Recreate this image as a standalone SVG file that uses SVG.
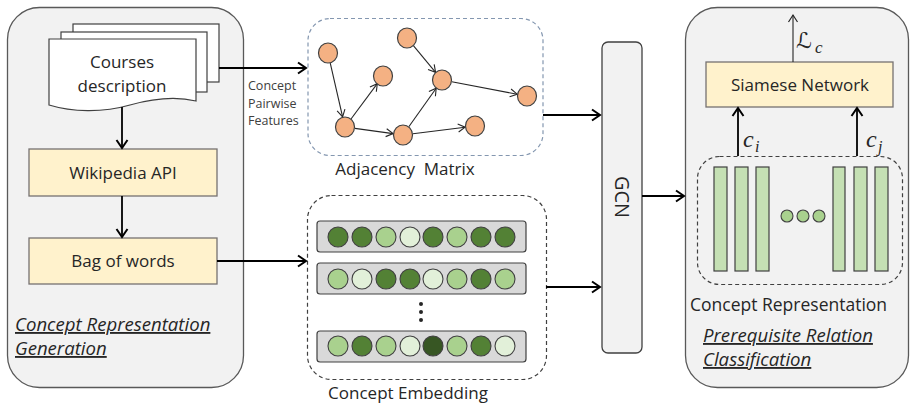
<svg xmlns="http://www.w3.org/2000/svg" width="911" height="408" viewBox="0 0 911 408">
<defs>
<marker id="ah" markerUnits="userSpaceOnUse" markerWidth="14" markerHeight="14" refX="11" refY="7" orient="auto" viewBox="0 0 14 14">
<path d="M3,1.5 L11,7 L3,12.5" fill="none" stroke="#000" stroke-width="2"/>
</marker>
<marker id="ahs" markerUnits="userSpaceOnUse" markerWidth="12" markerHeight="12" refX="10" refY="6" orient="auto" viewBox="0 0 12 12">
<path d="M3,1.5 L10,6 L3,10.5" fill="none" stroke="#262626" stroke-width="1.2"/>
</marker>
<marker id="ahg" markerUnits="userSpaceOnUse" markerWidth="12" markerHeight="12" refX="10" refY="6" orient="auto" viewBox="0 0 12 12">
<path d="M3,2 L10,6 L3,10" fill="none" stroke="#262626" stroke-width="1.1"/>
</marker>
</defs>
<style>
text{font-family:"Open Sans","Liberation Sans",sans-serif;fill:#262626}
.panel{fill:#f2f2f2;stroke:#595959;stroke-width:1.3}
.box{fill:#fff2cc;stroke:#767171;stroke-width:1.3}
.lbl{font-size:17px;text-anchor:middle}
.cap{font-size:17.5px}
.it{font-size:18.6px;font-style:italic;text-decoration:underline}
.small{font-size:12.5px;fill:#404040}
.page{fill:#fff;stroke:#404040;stroke-width:1.2}
.arr{stroke:#000;stroke-width:1.8;fill:none;marker-end:url(#ah)}
.gedge{stroke:#262626;stroke-width:1.1;fill:none;marker-end:url(#ahg)}
.gnode{fill:#f4b183;stroke:#404040;stroke-width:1.2}
.row{fill:#d9d9d9;stroke:#404040;stroke-width:1.2}
.d{fill:#538135;stroke:#404040;stroke-width:1.1}
.m{fill:#a9d18e;stroke:#404040;stroke-width:1.1}
.l{fill:#e2f0d9;stroke:#404040;stroke-width:1.1}
.x{fill:#375623;stroke:#404040;stroke-width:1.1}
.bar{fill:#c5e0b4;stroke:#404040;stroke-width:1.2}
.math{font-family:"Liberation Serif","DejaVu Serif",serif;font-style:italic}
.script{font-family:"DejaVu Sans","Noto Sans",sans-serif;font-style:italic}
</style>

<g id="panel-left">
<rect class="panel" x="7.5" y="7.5" width="236" height="380" rx="32"/>
<text class="it" x="15" y="331">Concept Representation</text>
<text class="it" x="15" y="355">Generation</text>
</g>

<g id="courses">
<rect class="page" x="73" y="24" width="146" height="58"/>
<rect class="page" x="61" y="32" width="146" height="60"/>
<path class="page" d="M49,39 H196 V101 C175,96 155,98 130,105 C102,113 72,112 49,105 Z"/>
<text class="lbl" x="122" y="68">Courses</text>
<text class="lbl" x="122" y="92">description</text>
</g>

<g id="wikipedia">
<rect class="box" x="29" y="149" width="188" height="47"/>
<text class="lbl" x="123" y="179">Wikipedia API</text>
</g>

<g id="bow">
<rect class="box" x="29" y="238" width="188" height="46"/>
<text class="lbl" x="123" y="267">Bag of words</text>
</g>

<g id="adjacency">
<rect x="308" y="18.5" width="235" height="137" rx="22" fill="none" stroke="#8497b0" stroke-width="1.2" stroke-dasharray="4,3"/>
<g id="graph-edges">
<line class="gedge" x1="330.2" y1="62.8" x2="342.6" y2="116.8"/>
<line class="gedge" x1="351" y1="119" x2="377.3" y2="83.7"/>
<line class="gedge" x1="354.9" y1="128.4" x2="393.1" y2="133.6"/>
<line class="gedge" x1="408.8" y1="126.8" x2="436.2" y2="88.2"/>
<line class="gedge" x1="413.4" y1="45.7" x2="435.6" y2="72.3"/>
<line class="gedge" x1="451.8" y1="81.8" x2="517.2" y2="94.2"/>
<line class="gedge" x1="412.9" y1="133.8" x2="465.1" y2="127.2"/>
</g>
<ellipse class="gnode" cx="328" cy="53" rx="9.5" ry="10"/>
<ellipse class="gnode" cx="383" cy="76" rx="9.5" ry="10"/>
<ellipse class="gnode" cx="407" cy="38" rx="9.5" ry="10"/>
<ellipse class="gnode" cx="442" cy="80" rx="9.5" ry="10"/>
<ellipse class="gnode" cx="527" cy="96" rx="9.5" ry="10"/>
<ellipse class="gnode" cx="345" cy="127" rx="9.5" ry="10"/>
<ellipse class="gnode" cx="403" cy="135" rx="9.5" ry="10"/>
<ellipse class="gnode" cx="475" cy="126" rx="9.5" ry="10"/>
<text class="lbl" x="405" y="175" xml:space="preserve">Adjacency  Matrix</text>
</g>

<g id="embedding">
<rect x="307.5" y="195.5" width="239" height="184" rx="24" fill="none" stroke="#404040" stroke-width="1.2" stroke-dasharray="4,3"/>
<rect class="row" x="317" y="221" width="209" height="31" rx="3"/>
<rect class="row" x="317" y="263" width="209" height="31" rx="3"/>
<rect class="row" x="317" y="331" width="209" height="31" rx="3"/>
<g>
<circle class="d" cx="338" cy="237" r="10"/><circle class="d" cx="362" cy="237" r="10"/><circle class="m" cx="386" cy="237" r="10"/><circle class="l" cx="410" cy="237" r="10"/><circle class="d" cx="433" cy="237" r="10"/><circle class="m" cx="457" cy="237" r="10"/><circle class="d" cx="481" cy="237" r="10"/><circle class="d" cx="505" cy="237" r="10"/>
</g>
<g>
<circle class="m" cx="338" cy="279" r="10"/><circle class="l" cx="362" cy="279" r="10"/><circle class="d" cx="386" cy="279" r="10"/><circle class="d" cx="410" cy="279" r="10"/><circle class="l" cx="433" cy="279" r="10"/><circle class="m" cx="457" cy="279" r="10"/><circle class="d" cx="481" cy="279" r="10"/><circle class="m" cx="505" cy="279" r="10"/>
</g>
<g>
<circle class="m" cx="338" cy="346" r="10"/><circle class="d" cx="362" cy="346" r="10"/><circle class="m" cx="386" cy="346" r="10"/><circle class="l" cx="410" cy="346" r="10"/><circle class="x" cx="433" cy="346" r="10"/><circle class="m" cx="457" cy="346" r="10"/><circle class="d" cx="481" cy="346" r="10"/><circle class="l" cx="505" cy="346" r="10"/>
</g>
<circle cx="421" cy="304" r="2" fill="#262626"/>
<circle cx="421" cy="312" r="2" fill="#262626"/>
<circle cx="421" cy="320" r="2" fill="#262626"/>
<text class="lbl" x="408" y="399">Concept Embedding</text>
</g>

<g id="gcn">
<rect x="602" y="42" width="40" height="311" rx="6" fill="#f2f2f2" stroke="#404040" stroke-width="1.3"/>
<text transform="translate(622,197) rotate(90)" x="0" y="7" font-size="20" text-anchor="middle">GCN</text>
</g>

<g id="panel-right">
<rect class="panel" x="685.5" y="7.5" width="223" height="380" rx="32"/>
<text class="it" x="703" y="342">Prerequisite Relation</text>
<text class="it" x="703" y="366">Classification</text>
</g>

<g id="siamese">
<rect class="box" x="706" y="62" width="187" height="45"/>
<text class="lbl" x="800" y="91">Siamese Network</text>
</g>

<g id="concept-representation">
<rect x="697.5" y="156.5" width="205" height="128" rx="22" fill="none" stroke="#404040" stroke-width="1.2" stroke-dasharray="4,3"/>
<rect class="bar" x="714" y="167" width="13" height="104"/>
<rect class="bar" x="735" y="167" width="13" height="104"/>
<rect class="bar" x="756" y="167" width="13" height="104"/>
<rect class="bar" x="833" y="167" width="12" height="104"/>
<rect class="bar" x="854" y="167" width="13" height="104"/>
<rect class="bar" x="875" y="167" width="13" height="104"/>
<circle class="m" cx="787" cy="216" r="6"/>
<circle class="m" cx="803" cy="216" r="6"/>
<circle class="m" cx="819" cy="216" r="6"/>
<text class="cap" x="690" y="311">Concept Representation</text>
</g>

<g id="connectors">
<line class="arr" x1="122" y1="107" x2="122" y2="148"/>
<line class="arr" x1="122" y1="196" x2="122" y2="237"/>
<line class="arr" x1="219" y1="68" x2="306" y2="68"/>
<line class="arr" x1="217" y1="261" x2="306" y2="261"/>
<line class="arr" x1="543" y1="115" x2="600" y2="115"/>
<line class="arr" x1="546" y1="287" x2="600" y2="287"/>
<line class="arr" x1="642" y1="196" x2="684" y2="196"/>
<line class="arr" x1="738" y1="156" x2="738" y2="108"/>
<line class="arr" x1="857" y1="156" x2="857" y2="108"/>
<line x1="793" y1="62" x2="793" y2="15" stroke="#262626" stroke-width="1.1" marker-end="url(#ahs)"/>
<text class="small" x="248" y="90">Concept</text>
<text class="small" x="248" y="108">Pairwise</text>
<text class="small" x="248" y="125">Features</text>
<text class="script" x="796" y="48" font-size="22">ℒ</text>
<text class="math" x="815" y="53" font-size="17">c</text>
<text class="math" x="743" y="147" font-size="24">c</text>
<text class="math" x="755" y="152" font-size="16">i</text>
<text class="math" x="866" y="147" font-size="24">c</text>
<text class="math" x="878" y="152" font-size="16">j</text>
</g>
</svg>
